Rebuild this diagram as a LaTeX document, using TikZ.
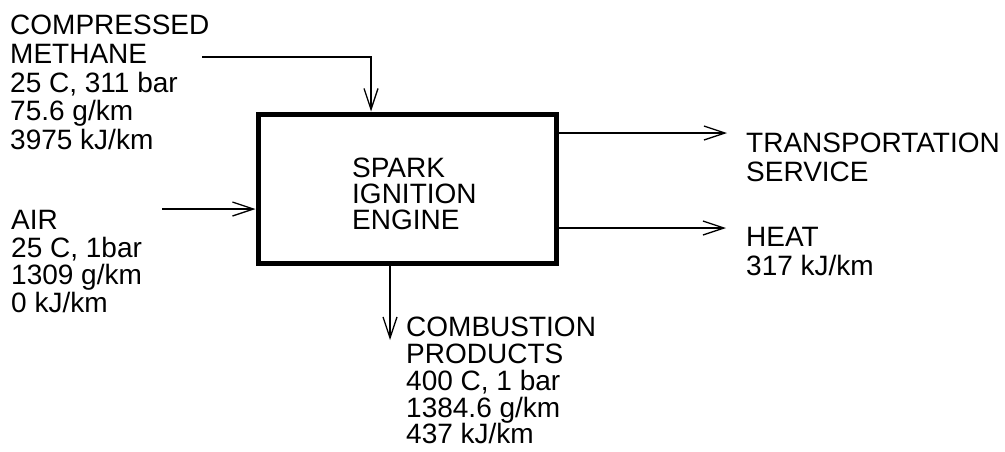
\documentclass[tikz,border=0pt]{standalone}
\usepackage{fontspec}
\setmainfont{Liberation Sans}
\usetikzlibrary{arrows.meta}
\tikzset{
  flow/.style={line width=1.3pt,-{Straight Barb[length=21pt,width=14pt,line width=1.3pt]}},
  stream/.style={align=left,inner sep=0pt,anchor=north west,font=\fontsize{28}{27.6}\selectfont},
  unit/.style={draw,line width=5pt,minimum width=298pt,minimum height=149pt}
}
\begin{document}
\begin{tikzpicture}[x=1pt,y=-1pt]
  \useasboundingbox (0,0) rectangle (1005,451);
  % engine
  \node[unit] (engine) at (407,188.5) {};
  \node[stream,font=\fontsize{28}{26}\selectfont] (enginename) at (352,158) {SPARK\\IGNITION\\ENGINE};

  % streams in
  \node[stream,font=\fontsize{28}{28.7}\selectfont] (methane) at (10,15) {COMPRESSED\\METHANE\\25 C, 311 bar\\75.6 g/km\\3975 kJ/km};
  \node[stream] (air) at (11,210) {AIR\\25 C, 1bar\\1309 g/km\\0 kJ/km};
  \coordinate (m0) at (202,57);
  \coordinate (a0) at (162,209);
  \draw[flow] (m0) -| ([xshift=-36pt]engine.north);
  \draw[flow] (a0) -- (a0 -| engine.west);

  % streams out
  \node[stream,font=\fontsize{28}{29}\selectfont] (service) at (746,133) {TRANSPORTATION\\SERVICE};
  \node[stream,font=\fontsize{28}{29}\selectfont] (heat) at (746,227) {HEAT\\317 kJ/km};
  \node[stream,font=\fontsize{28}{26.8}\selectfont] (products) at (406,317) {COMBUSTION\\PRODUCTS\\400 C, 1 bar\\1384.6 g/km\\437 kJ/km};
  \coordinate (t1) at (727,133);
  \coordinate (h1) at (726,228);
  \coordinate (c1) at (390,340);
  \draw[flow] (t1 -| engine.east) -- (t1);
  \draw[flow] (h1 -| engine.east) -- (h1);
  \draw[flow] (c1 |- engine.south) -- (c1);
\end{tikzpicture}
\end{document}
